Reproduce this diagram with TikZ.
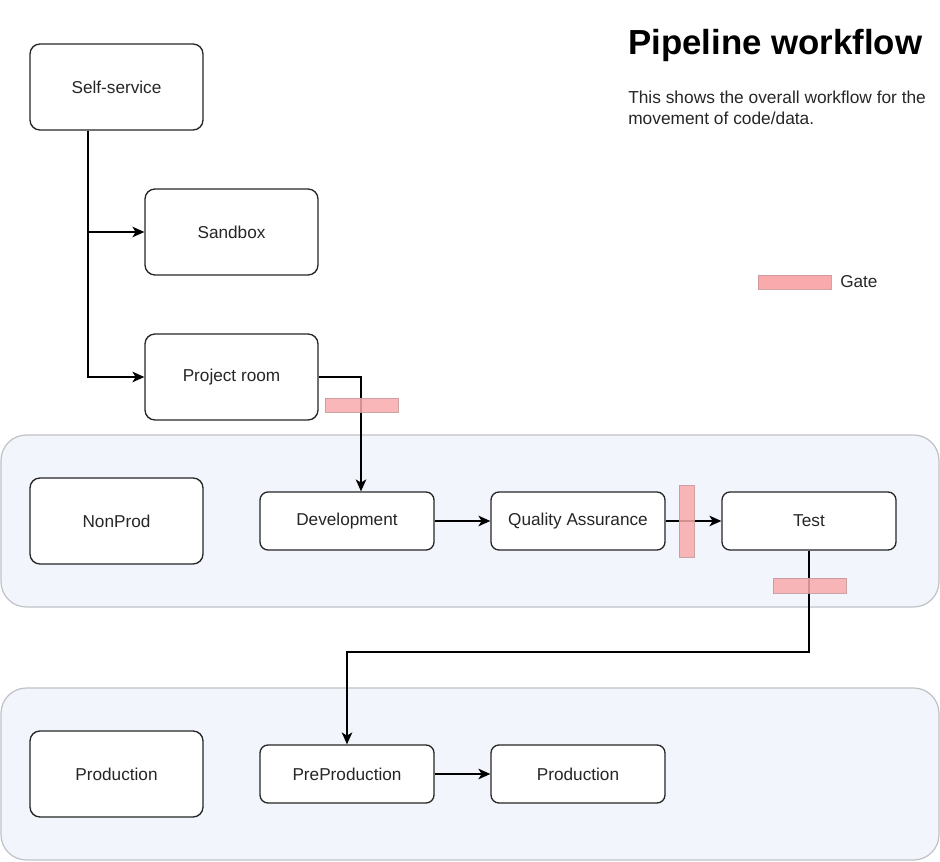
\documentclass[tikz,border=0pt]{standalone}
\usepackage{fontspec}
\setmainfont{Liberation Sans}
\usetikzlibrary{arrows.meta}
\definecolor{gatefill}{HTML}{F8AAAD}
\definecolor{gateline}{HTML}{C99A9C}
\definecolor{zonefill}{HTML}{F2F5FC}
\definecolor{zoneline}{HTML}{BFC1C6}
\definecolor{txt}{HTML}{262626}
\begin{document}
\begin{tikzpicture}[x=0.75pt,y=-0.75pt,
  lbl/.style={font=\fontsize{12.9}{15}\selectfont,text=txt},
  bigbox/.style={draw=black!85,line width=1pt,rounded corners=7.5pt,fill=white,minimum width=173*0.75pt,minimum height=86*0.75pt,inner sep=0pt,lbl},
  smallbox/.style={draw=black!85,line width=1pt,rounded corners=6pt,fill=white,minimum width=174*0.75pt,minimum height=58*0.75pt,inner sep=0pt,lbl},
  zone/.style={draw=zoneline,line width=0.9pt,fill=zonefill,rounded corners=19pt},
  gate/.style={draw=gateline,line width=0.6pt,fill=gatefill,fill opacity=0.85,draw opacity=0.9,inner sep=0pt},
  flow/.style={draw=black,line width=0.8pt,-{Stealth[length=9pt,width=8pt,inset=2.5pt]}},
  seg/.style={draw=black,line width=0.8pt}]
\useasboundingbox (0,0) rectangle (940,862);
% zones
\draw[zone] (1,435) rectangle (939,607);
\draw[zone] (1,688) rectangle (939,860);
% title
\node[anchor=north west,inner sep=0pt,font=\fontsize{26.1}{30}\selectfont\bfseries] (title) at (628,29) {Pipeline workflow};
\node[anchor=north west,inner sep=0pt,align=left,font=\fontsize{13}{15.8}\selectfont,text=txt] (desc) at (628,91) {This shows the overall workflow for the\\movement of code/data.};
% nodes
\node[bigbox] (self) at (116.5,87) {Self-service};
\node[bigbox] (sandbox) at (231.5,232) {Sandbox};
\node[bigbox] (project) at (231.5,377) {Project room};
\node[bigbox] (nonprod) at (116.5,521) {NonProd};
\node[smallbox] (dev) at (347,521) {Development};
\node[smallbox] (qa) at (578,521) {Quality Assurance};
\node[smallbox] (test) at (809,521) {Test};
\node[bigbox] (prodlbl) at (116.5,774) {Production};
\node[smallbox] (preprod) at (347,774) {PreProduction};
\node[smallbox] (prod) at (578,774) {Production};
% connectors
\coordinate (split) at (88,232);
\coordinate (pr) at (361,377);
\coordinate (tb) at (809,652);
\coordinate (pp) at (347,652);
\draw[seg] (self.south -| split) -- (split);
\draw[flow] (split) -- (sandbox.west);
\draw[flow] (split) |- (project.west);
\draw[flow] (project.east) -- (pr) -- (pr |- dev.north);
\draw[flow] (dev.east) -- (qa.west);
\draw[flow] (qa.east) -- (test.west);
\draw[flow] (test.south) -- (tb) -- (pp) -- (preprod.north);
\draw[flow] (preprod.east) -- (prod.west);
% gates
\node[gate,minimum width=73*0.75pt,minimum height=14*0.75pt] (g1) at (361.5,405) {};
\node[gate,minimum width=15*0.75pt,minimum height=72*0.75pt] (g2) at (686.5,521) {};
\node[gate,minimum width=73*0.75pt,minimum height=15*0.75pt] (g3) at (809.5,585.5) {};
\node[gate,fill opacity=1,minimum width=73*0.75pt,minimum height=14*0.75pt] (g0) at (794.5,282) {};
\node[anchor=west,inner sep=0pt,lbl] (gatelbl) at (840,282) {Gate};
\end{tikzpicture}
\end{document}
